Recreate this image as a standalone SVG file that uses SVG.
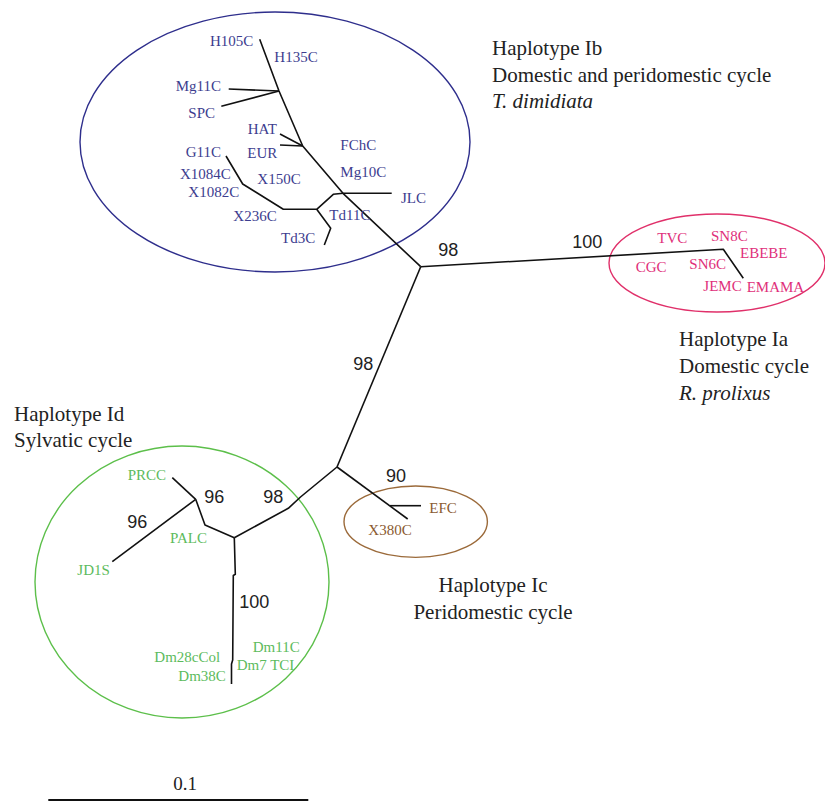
<svg xmlns="http://www.w3.org/2000/svg" width="825" height="803" viewBox="0 0 825 803">
<style>
.br{fill:none;stroke:#111;stroke-width:1.6;stroke-linejoin:round;stroke-linecap:butt}
.lb{font-family:"Liberation Serif","Times New Roman",serif;font-size:15px}
.blue{fill:#3d3d8f}
.pink{fill:#e0307a}
.green{fill:#5dbb5d}
.brown{fill:#8a5a30}
.hd{font-family:"Liberation Serif","Times New Roman",serif;font-size:21px;fill:#222}
.it{font-style:italic}
.bs{font-family:"Liberation Sans",Arial,sans-serif;font-size:18px;fill:#222}
.el{fill:none;stroke-width:1.4}
</style>
<rect width="825" height="803" fill="#fff"/>
<g id="clusters">
<ellipse id="ellipse-Ib" class="el" cx="275" cy="142" rx="195" ry="130" stroke="#2e2e8c"/>
<ellipse id="ellipse-Ia" class="el" cx="717" cy="263" rx="108" ry="49" stroke="#e0306a"/>
<ellipse id="ellipse-Id" class="el" cx="182" cy="582" rx="147" ry="136" stroke="#5cbf4a"/>
<ellipse id="ellipse-Ic" class="el" cx="415.7" cy="521.7" rx="71.7" ry="35.7" stroke="#9b6a3a"/>
</g>
<g id="connectors">
<polyline class="br" points="259.7,39.3 279,91 302.7,146 343,193.3 420.7,266.7"/>
<polyline class="br" points="228.7,89 279,91"/>
<polyline class="br" points="221.3,106.3 279,91"/>
<polyline class="br" points="280,134 302.7,146"/>
<polyline class="br" points="280,145 302.7,146"/>
<polyline class="br" points="343,193.3 391.7,193.3"/>
<polyline class="br" points="343,193.3 333.3,194.3 316.7,209.3 283.3,209.3 242.7,184 226,156"/>
<polyline class="br" points="316.7,209.3 330.7,228.3 324.3,245"/>
<polyline class="br" points="420.7,266.7 723.3,249.3 743.3,278.3"/>
<polyline class="br" points="420.7,266.7 337,467"/>
<polyline class="br" points="337,467 407.7,519"/>
<polyline class="br" points="390,505.7 421,505.7"/>
<polyline class="br" points="337,467 300.5,497 288.3,508.3 234.3,537.7"/>
<polyline class="br" points="234.3,537.7 205,525 195.7,499.3"/>
<polyline class="br" points="195.7,499.3 172.3,477.7"/>
<polyline class="br" points="195.7,499.3 112.3,561.7"/>
<polyline class="br" points="234.3,537.7 235.3,574.3 233.3,575.5 232.7,660 231.5,664 231.5,684"/>
</g>
<g id="bootstrap">
<text class="bs" x="438.3" y="256">98</text>
<text class="bs" x="572.3" y="248.3">100</text>
<text class="bs" x="353.3" y="370">98</text>
<text class="bs" x="386" y="481.7">90</text>
<text class="bs" x="263.3" y="502.7">98</text>
<text class="bs" x="204.3" y="502.7">96</text>
<text class="bs" x="127.3" y="528.3">96</text>
<text class="bs" x="239.3" y="608.3">100</text>
</g>
<g id="node-Ib" class="lb blue">
<text x="210" y="46">H105C</text>
<text x="274.3" y="62.3">H135C</text>
<text x="175.7" y="91">Mg11C</text>
<text x="188.3" y="117.7">SPC</text>
<text x="247.7" y="134">HAT</text>
<text x="247.3" y="157.7">EUR</text>
<text x="340.3" y="150">FChC</text>
<text x="185.7" y="157.3">G11C</text>
<text x="180" y="179">X1084C</text>
<text x="257.3" y="184">X150C</text>
<text x="340.3" y="176.7">Mg10C</text>
<text x="188.3" y="196.7">X1082C</text>
<text x="401" y="203.3">JLC</text>
<text x="233.3" y="220.7">X236C</text>
<text x="329.3" y="220">Td11C</text>
<text x="281" y="242.7">Td3C</text>
</g>
<g id="node-Ia" class="lb pink">
<text x="657.3" y="243.3">TVC</text>
<text x="711" y="240.7">SN8C</text>
<text x="740" y="257.7">EBEBE</text>
<text x="635.7" y="271.7">CGC</text>
<text x="689.3" y="269">SN6C</text>
<text x="703.3" y="290.7">JEMC</text>
<text x="746.7" y="291.7">EMAMA</text>
</g>
<g id="node-Id" class="lb green">
<text x="127.7" y="480">PRCC</text>
<text x="77.3" y="575">JD1S</text>
<text x="170" y="542.7">PALC</text>
<text x="154.3" y="661.7">Dm28cCol</text>
<text x="178.3" y="680.7">Dm38C</text>
<text x="252.7" y="652.3">Dm11C</text>
<text x="236.7" y="670">Dm7 TCI</text>
</g>
<g id="node-Ic" class="lb brown">
<text x="429.3" y="512.7">EFC</text>
<text x="368.3" y="535">X380C</text>
</g>
<g id="headings" class="hd">
<text x="492" y="55">Haplotype Ib</text>
<text x="492" y="81.5">Domestic and peridomestic cycle</text>
<text x="492" y="108" class="it">T. dimidiata</text>
<text x="679" y="346">Haplotype Ia</text>
<text x="679" y="373">Domestic cycle</text>
<text x="679" y="400" class="it">R. prolixus</text>
<text x="14" y="421">Haplotype Id</text>
<text x="14" y="447">Sylvatic cycle</text>
<text x="493" y="592" text-anchor="middle">Haplotype Ic</text>
<text x="493" y="618.5" text-anchor="middle">Peridomestic cycle</text>
</g>
<g id="scale">
<line x1="48.3" y1="800" x2="308.3" y2="800" stroke="#111" stroke-width="1.8"/>
<text class="hd" x="185" y="790" text-anchor="middle" style="font-size:19px">0.1</text>
</g>
</svg>
